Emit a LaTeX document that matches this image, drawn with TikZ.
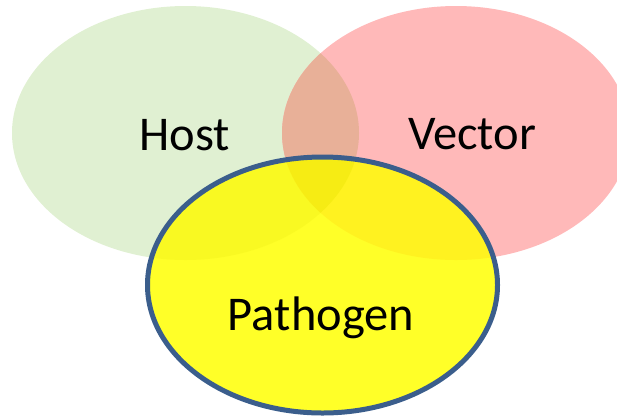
\documentclass[tikz,border=0pt]{standalone}
\usepackage{fontspec}
\setmainfont{Carlito}
\definecolor{hostfill}{RGB}{224,240,210}
\definecolor{vectorfill}{RGB}{255,185,185}
\definecolor{hvfill}{RGB}{232,176,152}
\definecolor{pathfill}{RGB}{255,255,40}
\definecolor{phfill}{RGB}{249,249,34}
\definecolor{pvfill}{RGB}{255,242,32}
\definecolor{allfill}{RGB}{246,236,20}
\definecolor{pathline}{RGB}{59,94,140}
\tikzset{
  label/.style={font=\fontsize{48.5}{48.5}\selectfont, text=black, anchor=base, inner sep=0pt}
}
\begin{document}
\begin{tikzpicture}[x=1pt,y=-1pt]
\useasboundingbox (0,0) rectangle (617,416);
\def\hostpath{(185.5,133) ellipse [x radius=173.5, y radius=127]}
\def\vectorpath{(456,133) ellipse [x radius=174, y radius=127]}
\def\pathpath{(322.5,285) ellipse [x radius=175, y radius=128]}
% the three sets
\fill[hostfill] \hostpath;
\fill[vectorfill] \vectorpath;
\begin{scope}
  \clip \hostpath;
  \fill[hvfill] \vectorpath;
\end{scope}
\fill[pathfill] \pathpath;
\begin{scope}
  \clip \pathpath;
  \fill[phfill] \hostpath;
  \fill[pvfill] \vectorpath;
  \clip \hostpath;
  \fill[allfill] \vectorpath;
\end{scope}
\draw[pathline, line width=5] \pathpath;
% labels
\node[label] (host) at (185,150) {Host};
\node[label] (vector) at (472,149) {Vector};
\node[label] (pathogen) at (321,330) {Pathogen};
\end{tikzpicture}
\end{document}
